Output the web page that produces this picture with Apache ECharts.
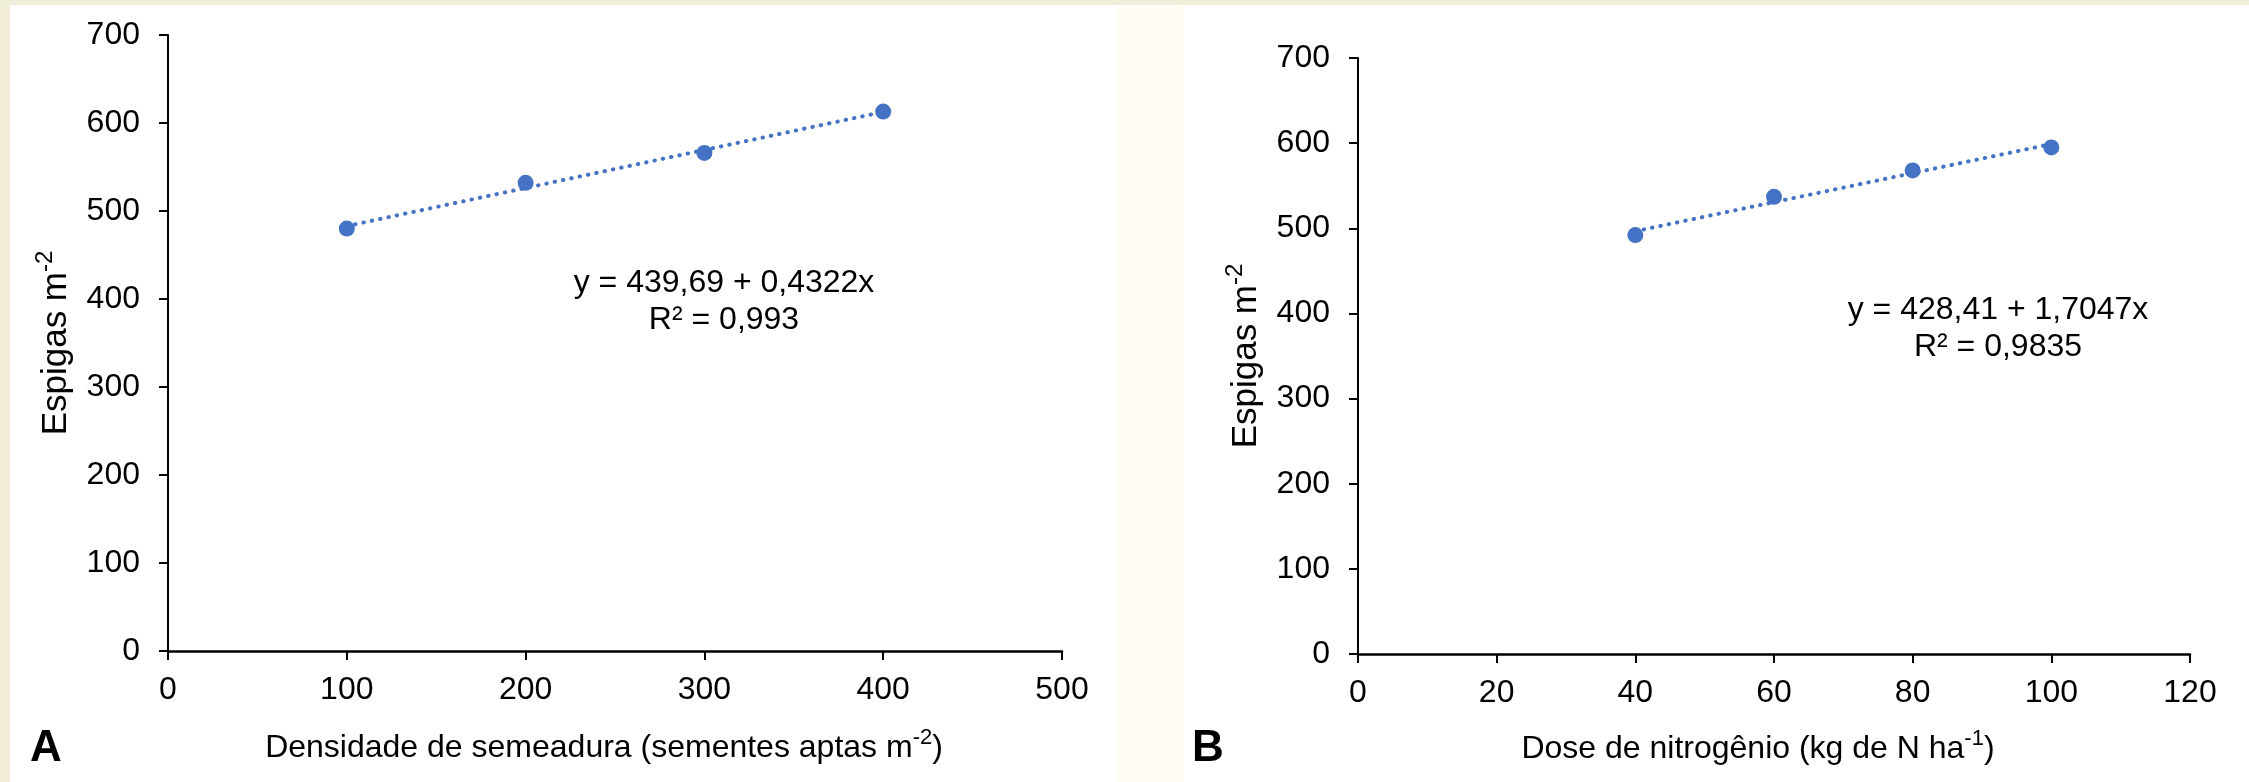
<!DOCTYPE html>
<html>
<head>
<meta charset="utf-8">
<script src="https://cdn.jsdelivr.net/npm/echarts@6/dist/echarts.min.js"></script>
<style>
  html, body { margin: 0; padding: 0; background: #f3ecd8; }
  #chart { width: 2249px; height: 782px; }
</style>
</head>
<body>
<div id="chart"></div>
<script>
// ---- Data ----
// Panel A: seeding density vs ears per m²
const densityA = [100, 200, 300, 400];
const earsA = [480, 532, 566, 613];
const trendAX = [100, 400];
const trendAY = [482.9, 612.6];
const ticksAX = [0, 100, 200, 300, 400, 500];
const ticksAY = [0, 100, 200, 300, 400, 500, 600, 700];
const equationA = ['y = 439,69 + 0,4322x', 'R² = 0,993'];

// Panel B: nitrogen dose vs ears per m²
const doseB = [40, 60, 80, 100];
const earsB = [492, 537, 568, 595];
const trendBX = [40, 100];
const trendBY = [496.6, 598.9];
const ticksBX = [0, 20, 40, 60, 80, 100, 120];
const ticksBY = [0, 100, 200, 300, 400, 500, 600, 700];
const equationB = ['y = 428,41 + 1,7047x', 'R² = 0,9835'];

// ---- Styling ----
const FONT = "'Liberation Sans', Arial, sans-serif";
const BLUE = '#4472C4';
const pairs = (xs, ys) => xs.map((x, i) => [x, ys[i]]);

const xNameStyle = {
  fontSize: 32, color: '#000', fontFamily: FONT, lineHeight: 42,
  rich: { s: { fontSize: 22, lineHeight: 22, verticalAlign: 'top', color: '#000', fontFamily: FONT } }
};
const yNameStyle = {
  fontSize: 35, color: '#000', fontFamily: FONT, lineHeight: 46,
  rich: { s: { fontSize: 24, lineHeight: 24, verticalAlign: 'top', color: '#000', fontFamily: FONT } }
};

function xAxis(grid, ticks, name, gap, pad) {
  return {
    type: 'value', gridIndex: grid,
    min: ticks[0], max: ticks[ticks.length - 1], interval: ticks[1] - ticks[0],
    axisLine: { show: true, onZero: false, lineStyle: { color: '#000', width: 2.5 } },
    axisTick: { show: true, length: 9, inside: false, lineStyle: { color: '#000', width: 2 } },
    splitLine: { show: false },
    axisLabel: { fontSize: 32, color: '#000', fontFamily: FONT, margin: 23 },
    name: name, nameLocation: 'middle', nameGap: gap,
    nameTextStyle: Object.assign({}, xNameStyle, { padding: pad })
  };
}
function yAxis(grid, ticks, name, gap) {
  return {
    type: 'value', gridIndex: grid,
    min: ticks[0], max: ticks[ticks.length - 1], interval: ticks[1] - ticks[0],
    axisLine: { show: true, onZero: false, lineStyle: { color: '#000', width: 2 } },
    axisTick: { show: true, length: 9, inside: false, lineStyle: { color: '#000', width: 2 } },
    splitLine: { show: false },
    axisLabel: { fontSize: 32, color: '#000', fontFamily: FONT, margin: 28 },
    name: name, nameLocation: 'middle', nameGap: gap,
    nameTextStyle: yNameStyle
  };
}
function trend(i, xs, ys) {
  return {
    type: 'line', xAxisIndex: i, yAxisIndex: i, data: pairs(xs, ys),
    showSymbol: false, silent: true, z: 1,
    lineStyle: { color: BLUE, width: 4, type: [0.5, 8], cap: 'round' }
  };
}
function points(i, xs, ys) {
  return {
    type: 'scatter', xAxisIndex: i, yAxisIndex: i, data: pairs(xs, ys),
    symbol: 'circle', symbolSize: 16, z: 3,
    itemStyle: { color: BLUE, opacity: 1 }
  };
}
function eqText(cx, cy, lines) {
  return {
    type: 'text', x: cx, y: cy,
    style: { text: lines.join('\n'), fill: '#000', font: '32px ' + FONT,
             align: 'center', verticalAlign: 'middle', lineHeight: 37 }
  };
}

const chart = echarts.init(document.getElementById('chart'), null, { renderer: 'canvas' });
chart.setOption({
  animation: false,
  backgroundColor: '#f3ecd8',
  graphic: [
    { type: 'rect', shape: { x: 0, y: 0, width: 2249, height: 5 }, style: { fill: '#eeeed9' }, z: -10 },
    { type: 'rect', shape: { x: 10, y: 5, width: 1107, height: 777 }, style: { fill: '#ffffff' }, z: -10 },
    { type: 'rect', shape: { x: 1117, y: 5, width: 66, height: 777 }, style: { fill: '#fdfbf3' }, z: -10 },
    { type: 'rect', shape: { x: 1183, y: 5, width: 1066, height: 777 }, style: { fill: '#ffffff' }, z: -10 },
    eqText(724, 302, equationA),
    eqText(1998, 329, equationB),
    { type: 'text', x: 46, y: 749, style: { text: 'A', fill: '#000', font: 'bold 44px ' + FONT, align: 'center', verticalAlign: 'middle' } },
    { type: 'text', x: 1208, y: 749, style: { text: 'B', fill: '#000', font: 'bold 44px ' + FONT, align: 'center', verticalAlign: 'middle' } }
  ],
  grid: [
    { left: 168, top: 35, width: 894, height: 616 },
    { left: 1358, top: 58, width: 832, height: 596 }
  ],
  xAxis: [
    xAxis(0, ticksAX, 'Densidade de semeadura (sementes aptas m{s|-2})', 76, [0, 22, 0, 0]),
    xAxis(1, ticksBX, 'Dose de nitrogênio (kg de N ha{s|-1})', 74, [0, 32, 0, 0])
  ],
  yAxis: [
    yAxis(0, ticksAY, 'Espigas m{s|-2}', 89),
    yAxis(1, ticksBY, 'Espigas m{s|-2}', 89)
  ],
  series: [
    trend(0, trendAX, trendAY),
    points(0, densityA, earsA),
    trend(1, trendBX, trendBY),
    points(1, doseB, earsB)
  ]
});
</script>
</body>
</html>
